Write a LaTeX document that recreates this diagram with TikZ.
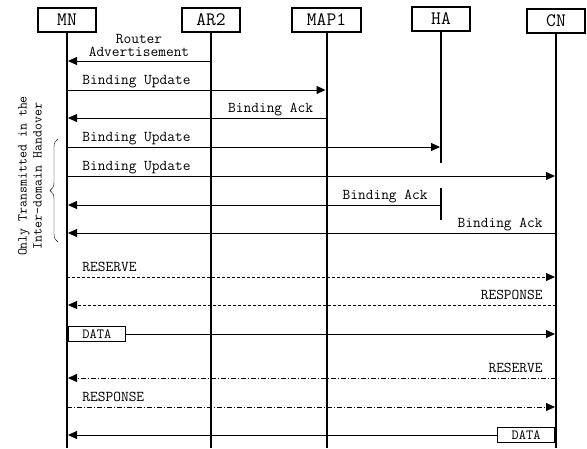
\documentclass[tikz,border=0pt]{standalone}
\usepackage{fontspec}
\usetikzlibrary{arrows.meta,decorations.pathreplacing}

\tikzset{
  entity/.style={draw, line width=2pt, minimum width=58pt, minimum height=24pt,
    inner sep=0pt, font=\ttfamily\fontsize{19}{19}\selectfont},
  life/.style={line width=2pt},
  msg/.style={line width=0.8pt, shorten >=1pt, -{Triangle[length=9pt,width=8pt]}},
  lbl/.style={font=\ttfamily\fontsize{15}{13.5}\selectfont, inner sep=2pt},
  msglbl/.style={lbl, text height=10pt, text depth=3pt},
  fromleft/.style={msglbl, pos=0, anchor=south west, xshift=13pt},
  fromright/.style={msglbl, pos=0, anchor=south east, xshift=-11pt},
  databox/.style={draw, fill=white, line width=0.8pt, minimum width=57pt,
    minimum height=15pt, inner sep=1pt, font=\ttfamily\fontsize{14}{14}\selectfont},
  dash1/.style={dash pattern=on 3pt off 2pt},
  dash2/.style={dash pattern=on 5pt off 2pt on 1pt off 2pt},
}

\begin{document}
\begin{tikzpicture}[x=1pt,y=-1pt]
  \useasboundingbox (0,0) rectangle (587,448);
  % entities
  \node[entity] (mn) at (67,20) {MN};
  \node[entity] (ar2) at (211,20) {AR2};
  \node[entity, minimum width=69pt] (map1) at (326.5,20) {MAP1};
  \node[entity] (ha) at (441,18.5) {HA};
  \node[entity] (cn) at (556,20.5) {CN};
  % lifelines
  \draw[life] (mn.south) -- (mn |- 0,448);
  \draw[life] (ar2.south) -- (ar2 |- 0,448);
  \draw[life] (map1.south) -- (map1 |- 0,448);
  \draw[life] (ha.south) -- (ha |- 0,163);
  \draw[life] (ha |- 0,188) -- (ha |- 0,220);
  \draw[life] (cn.south) -- (cn |- 0,448);
  % messages
  \draw[msg] (ar2 |- 0,61) -- node[lbl, above, align=center, yshift=2pt] (ra) {Router\\Advertisement} (mn |- 0,61);
  \draw[msg] (mn |- 0,90) -- node[fromleft] (bu1) {Binding Update} (map1 |- 0,90);
  \draw[msg] (map1 |- 0,118) -- node[fromright] (ba1) {Binding Ack} (mn |- 0,118);
  \draw[msg] (mn |- 0,147) -- node[fromleft] (bu2) {Binding Update} (ha |- 0,147);
  \draw[msg] (mn |- 0,176) -- node[fromleft] (bu3) {Binding Update} (cn |- 0,176);
  \draw[msg] (ha |- 0,205) -- node[fromright] (ba2) {Binding Ack} (mn |- 0,205);
  \draw[msg] (cn |- 0,233) -- node[fromright] (ba3) {Binding Ack} (mn |- 0,233);
  \draw[msg, dash1] (mn |- 0,277) -- node[fromleft] (rsv1) {RESERVE} (cn |- 0,277);
  \draw[msg, dash1] (cn |- 0,305) -- node[fromright] (rsp1) {RESPONSE} (mn |- 0,305);
  \draw[msg] (mn |- 0,334) -- node[databox, pos=0, anchor=west, xshift=1pt] (d1) {DATA} (cn |- 0,334);
  \draw[msg, dash2] (cn |- 0,378) -- node[fromright] (rsv2) {RESERVE} (mn |- 0,378);
  \draw[msg, dash2] (mn |- 0,407) -- node[fromleft] (rsp2) {RESPONSE} (cn |- 0,407);
  \draw[msg] (cn |- 0,435) -- node[databox, pos=0, anchor=east, xshift=-1pt] (d2) {DATA} (mn |- 0,435);
  % inter-domain note
  \draw[decorate, decoration={brace, amplitude=8pt}] (58,242) -- (58,139);
  \node[lbl, rotate=90, align=center, font=\ttfamily\fontsize{13.5}{15}\selectfont] (note) at (30,176)
    {Only Transmitted in the\\Inter-domain Handover};
\end{tikzpicture}
\end{document}
